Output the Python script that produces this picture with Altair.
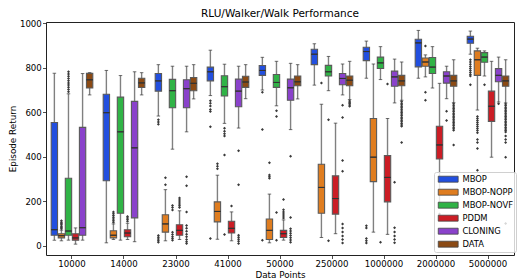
import altair as alt
import pandas as pd

CATEGORIES = ["10000", "14000", "23000", "41000", "50000", "250000", "1000000", "2000000", "5000000"]
SERIES = ["MBOP", "MBOP-NOPP", "MBOP-NOVF", "PDDM", "CLONING", "DATA"]
COLORS = ["#224fdf", "#df7d20", "#30b346", "#cb1d25", "#8a42cb", "#8b4a14"]

# (lower whisker, q1, median, q3, upper whisker) per category
MBOP = [(25, 47, 72, 554, 775), (13, 292, 598, 681, 788), (583, 695, 741, 774, 814),
        (675, 741, 782, 803, 879), (700, 766, 788, 810, 847), (722, 814, 861, 883, 908),
        (753, 832, 873, 892, 920), (753, 804, 912, 928, 968), (861, 910, 929, 942, 965)]
NOPP = [(22, 35, 45, 54, 70), (28, 35, 47, 67, 98), (22, 61, 98, 139, 252),
        (29, 107, 154, 197, 317), (13, 28, 69, 120, 232), (37, 146, 262, 366, 636),
        (61, 288, 398, 572, 817), (759, 807, 826, 844, 858), (610, 766, 836, 876, 888)]
NOVF = [(25, 47, 66, 303, 683), (25, 146, 512, 668, 765), (434, 620, 697, 748, 807),
        (550, 673, 715, 764, 816), (629, 712, 734, 770, 829), (697, 763, 782, 811, 851),
        (747, 797, 822, 848, 895), (709, 774, 803, 846, 895), (763, 825, 848, 868, 876)]
PDDM = [(7, 25, 35, 54, 80), (28, 40, 57, 72, 101), (28, 47, 69, 94, 157),
        (22, 57, 78, 110, 152), (25, 37, 54, 69, 116), (54, 142, 212, 314, 551),
        (51, 197, 307, 405, 572), (189, 390, 453, 537, 730), (398, 559, 627, 695, 829)]
CLONING = [(25, 47, 81, 532, 774), (18, 125, 440, 649, 782), (512, 620, 706, 746, 807),
           (529, 625, 695, 749, 807), (522, 654, 710, 749, 820), (678, 724, 752, 774, 817),
           (642, 717, 759, 785, 839), (661, 731, 763, 782, 807), (646, 737, 766, 796, 848)]
DATA = [(678, 709, 746, 775, 778), (678, 711, 732, 753, 778), (660, 697, 730, 756, 814),
        (661, 712, 736, 762, 814), (660, 719, 737, 763, 814), (657, 719, 744, 763, 829),
        (654, 719, 741, 766, 826), (643, 717, 741, 766, 836), (642, 717, 741, 763, 836)]

# outliers per category
MBOP_OUT = [[], [], [566, 556, 546, 46, 38, 30, 22, 16], [652, 641, 628, 612, 603, 535, 32],
            [690, 522, 25], [], [90, 80, 32, 22, 12], [],
            [836, 826, 816, 806, 797, 788, 779, 770, 763, 724]]
NOPP_OUT = [[76, 82, 88, 94, 100, 106, 112], [105, 112, 120, 128, 136, 144, 152], [274, 305],
            [346, 357, 368], [303, 310, 318, 373], [731], [], [898, 690, 654],
            [581, 572, 563, 554, 545, 536, 527, 518, 508, 478, 464, 437, 339]]
NOVF_OUT = [[692, 702, 712, 722, 732, 742, 752, 762, 772, 782], [],
            [181, 172, 160, 61, 50, 40, 32, 25], [528, 515, 503, 493, 408, 50],
            [607, 581, 149, 25], [566, 22], [15], [], [724]]
PDDM_OUT = [[], [110, 118, 125, 131], [172, 180, 188, 196, 205, 215], [178],
            [125, 134, 143, 152, 162, 208], [], [727], [142], []]
CLONING_OUT = [[], [], [310, 270, 152, 91, 78, 65, 52, 40, 28, 18, 10],
               [427, 274, 47, 38, 29, 20, 10], [402, 127, 76, 66, 56, 46, 36, 26, 16],
               [632, 576, 383, 335, 98, 80, 62, 44, 28, 12], [285, 81, 62, 44, 28, 13],
               [605, 563], [638]]
DATA_OUT = [[], [], [], [], [], [651, 645, 639, 633, 627],
            [648, 641, 634, 627, 620, 613, 606, 599, 592, 585, 578, 571, 564, 557, 550, 543, 537, 464],
            [638, 631, 624, 617, 610, 603, 596, 589, 582, 575, 568, 561, 554, 547, 540, 533, 526, 519, 453],
            [637, 630, 623, 616, 609, 602, 595, 588, 581, 574, 567, 560, 553, 546, 539, 532, 525, 518,
             511, 493, 478, 464, 398, 100]]

STATS = [MBOP, NOPP, NOVF, PDDM, CLONING, DATA]
OUTS = [MBOP_OUT, NOPP_OUT, NOVF_OUT, PDDM_OUT, CLONING_OUT, DATA_OUT]

box_rows, out_rows = [], []
for s, stats, outs in zip(SERIES, STATS, OUTS):
    for c, st, ol in zip(CATEGORIES, stats, outs):
        lo, q1, med, q3, hi = st
        box_rows.append(dict(cat=c, series=s, lo=lo, q1=q1, med=med, q3=q3, hi=hi))
        for v in ol:
            out_rows.append(dict(cat=c, series=s, v=v))
box_df = pd.DataFrame(box_rows)
out_df = pd.DataFrame(out_rows)

FONT = "DejaVu Sans"
yscale = alt.Scale(domain=[-41.8, 1005.8], nice=False, zero=False)
xenc = alt.X("cat:N", sort=CATEGORIES, title="Data Points",
             scale=alt.Scale(paddingInner=0.2, paddingOuter=0.1),
             axis=alt.Axis(labelAngle=0, titlePadding=2))
xoff = alt.XOffset("series:N", sort=SERIES, scale=alt.Scale(paddingInner=0.1))
yaxis = alt.Axis(values=[0, 200, 400, 600, 800, 1000], format="d", title="Episode Return",
                 titlePadding=1.5)

base = alt.Chart(box_df)
whisk = base.mark_rule(color="#808080", strokeWidth=1.4).encode(
    x=xenc, xOffset=xoff,
    y=alt.Y("lo:Q", scale=yscale, axis=yaxis), y2="hi:Q")
boxes = base.mark_bar(stroke="#5a5a5a", strokeWidth=1.1).encode(
    x=xenc, xOffset=xoff,
    y=alt.Y("q1:Q", scale=yscale), y2="q3:Q",
    color=alt.Color("series:N", sort=SERIES,
                    scale=alt.Scale(domain=SERIES, range=COLORS),
                    legend=alt.Legend(title=None, orient="none", legendX=388, legendY=150,
                                      symbolType="M-3,-0.9H3V0.9H-3Z", symbolSize=44,
                                      symbolOffset=7, labelOffset=10, symbolStrokeColor="#444444",
                                      symbolStrokeWidth=0.8, symbolOpacity=1,
                                      labelFont=FONT, labelFontSize=8.4, labelColor="#000000",
                                      rowPadding=3.0, padding=3,
                                      fillColor="rgba(255,255,255,0.8)", strokeColor="#d0d0d0",
                                      cornerRadius=2)))
medians = base.mark_bar(fill=None, stroke="#333333", strokeWidth=1).encode(
    x=xenc, xOffset=xoff,
    y=alt.Y("med:Q", scale=yscale), y2="med:Q")
cap_lo = base.mark_tick(color="#333333", size=3.5, thickness=1).encode(
    x=xenc, xOffset=xoff, y=alt.Y("lo:Q", scale=yscale))
cap_hi = base.mark_tick(color="#333333", size=3.5, thickness=1).encode(
    x=xenc, xOffset=xoff, y=alt.Y("hi:Q", scale=yscale))
fliers = alt.Chart(out_df).mark_point(shape="diamond", filled=True, size=9, color="#3a3a3a",
                                       opacity=1).encode(
    x=xenc, xOffset=xoff, y=alt.Y("v:Q", scale=yscale))

chart = alt.layer(whisk, boxes, medians, cap_lo, cap_hi, fliers).properties(
    width=468, height=233,
    autosize=alt.AutoSizeParams(type="none"),
    padding={"left": 38, "top": 14, "right": 5, "bottom": 25},
    title=alt.TitleParams("RLU/Walker/Walk Performance", font=FONT, fontSize=10.5,
                          fontWeight="normal", color="#000000", anchor="middle", offset=0),
).configure_view(stroke="#222222", strokeWidth=1).configure_axis(
    domain=False, grid=False, tickColor="#222222", tickSize=3.5, tickWidth=0.8,
    labelFont=FONT, labelFontSize=8.6, labelColor="#000000", labelPadding=1.2,
    titleFont=FONT, titleFontSize=8.8, titleFontWeight="normal", titleColor="#000000")

chart.save("out.html", embed_options={"renderer": "svg", "actions": False})
